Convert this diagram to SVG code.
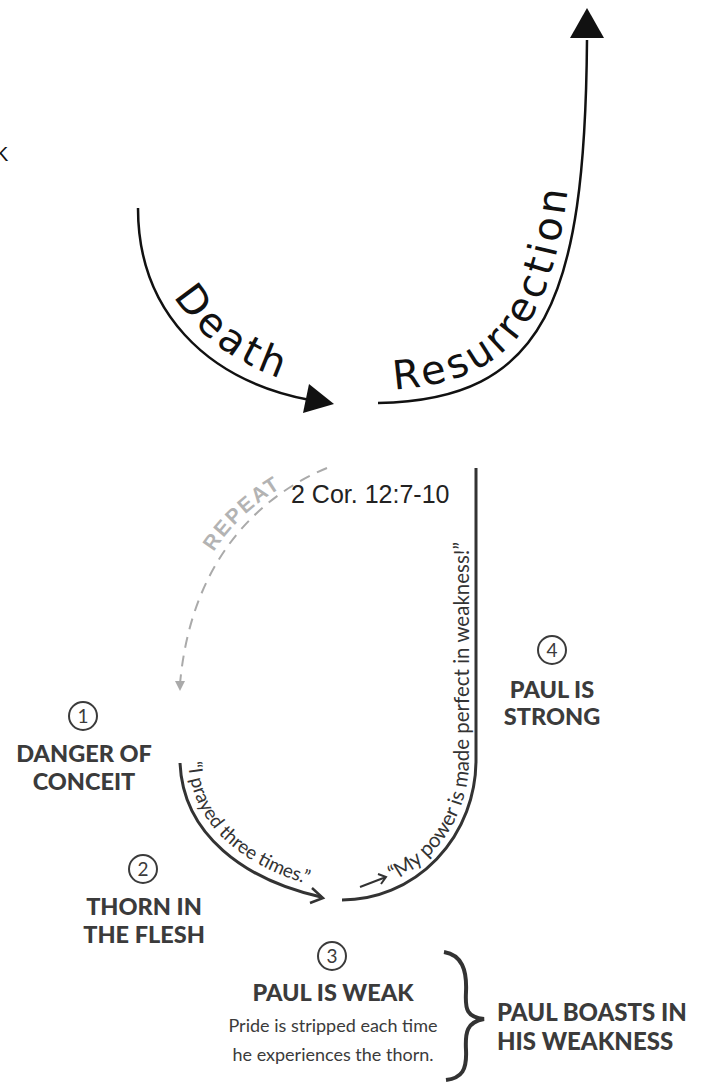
<svg xmlns="http://www.w3.org/2000/svg" width="701" height="1084" viewBox="0 0 701 1084">
<style>
.big{font-family:"DejaVu Sans",sans-serif;font-size:40px;fill:#111;letter-spacing:4px}
.head{font-family:Lato,"Liberation Sans",sans-serif;font-weight:900;font-size:23.5px;fill:#3b3b3b;text-anchor:middle}
.num{font-family:Lato,"Liberation Sans",sans-serif;font-size:19px;fill:#3b3b3b;text-anchor:middle}
.circ{fill:#fff;stroke:#3b3b3b;stroke-width:2}
.small{font-family:Lato,"Liberation Sans",sans-serif;font-size:18px;fill:#3b3b3b;text-anchor:middle}
.quote{font-family:Lato,"Liberation Sans",sans-serif;fill:#333}
.ln{fill:none;stroke:#333;stroke-width:3}
.blk{fill:none;stroke:#111;stroke-width:2.5}
</style>
<defs>
<path id="tpDeath" d="M151,208 C 151,300 213,366 314,388"/>
<path id="tpRes" d="M380,390 C 538,386 573,296 575,40"/>
<path id="tpPray" d="M188,760 C 191,830 250,872 330,890"/>
<path id="tpPower" d="M342,892 A128,132 0 0 0 469,760 L469,470"/>
<path id="tpRepeat" d="M196,588 C 213,543 243,506 305,474"/>
</defs>
<rect width="701" height="1084" fill="#fff"/>
<text x="-5" y="161" font-family="Liberation Sans, sans-serif" font-size="20" fill="#111">K</text>

<g id="connectors">
  <path class="blk" d="M138,208 C 138,310 205,380 310,400"/>
  <polygon points="334,404 309,384 303,413" fill="#111"/>
  <path class="blk" d="M378,403 C 545,400 585,300 587,40"/>
  <polygon points="587,8 604,38 570,38" fill="#111"/>
  <path d="M327,468 C 250,500 190,570 180,684" fill="none" stroke="#aaa" stroke-width="2" stroke-dasharray="11 8"/>
  <polygon points="175,681 185,681 180,691" fill="#aaa"/>
  <path class="ln" d="M476,468 L476,760 A134,140 0 0 1 342,900"/>
  <path class="ln" d="M180,763 C 183,835 245,880 321,897"/>
  <polyline points="312,888 323,898 310,903" fill="none" stroke="#333" stroke-width="2.5"/>
  <path d="M360,887 L386,877 M378,874 L386,877 L381,884" fill="none" stroke="#333" stroke-width="2"/>
</g>

<g id="death-label"><text class="big" letter-spacing="3"><textPath href="#tpDeath" startOffset="92">Death</textPath></text></g>
<g id="resurrection-label"><text class="big"><textPath href="#tpRes" startOffset="14">Resurrection</textPath></text></g>
<g id="repeat-label"><text font-family="Liberation Sans, sans-serif" font-weight="bold" font-size="21" fill="#b3b3b3" letter-spacing="2"><textPath href="#tpRepeat" startOffset="40">REPEAT</textPath></text></g>
<g id="pray-label"><text class="quote" font-size="19"><textPath href="#tpPray" startOffset="2">“I prayed three times.”</textPath></text></g>
<g id="power-label"><text class="quote" font-size="20.5"><textPath href="#tpPower" startOffset="52">“My power is made perfect in weakness!”</textPath></text></g>
<g id="ref"><text x="291" y="503" font-family="Liberation Sans, sans-serif" font-size="25" fill="#222">2 Cor. 12:7-10</text></g>

<g id="node1">
  <circle class="circ" cx="83" cy="716" r="14"/>
  <text class="num" x="83" y="722.5">1</text>
  <text class="head" x="84" y="762">DANGER OF</text>
  <text class="head" x="84" y="790">CONCEIT</text>
</g>
<g id="node2">
  <circle class="circ" cx="143" cy="869" r="14"/>
  <text class="num" x="143" y="875.5">2</text>
  <text class="head" x="144" y="915">THORN IN</text>
  <text class="head" x="144" y="943">THE FLESH</text>
</g>
<g id="node3">
  <circle class="circ" cx="332" cy="956" r="14"/>
  <text class="num" x="332" y="962.5">3</text>
  <text class="head" x="333" y="1001">PAUL IS WEAK</text>
  <text class="small" x="333" y="1032">Pride is stripped each time</text>
  <text class="small" x="333" y="1061">he experiences the thorn.</text>
</g>
<g id="node4">
  <circle class="circ" cx="552" cy="650" r="14"/>
  <text class="num" x="552" y="656.5">4</text>
  <text class="head" x="552" y="698">PAUL IS</text>
  <text class="head" x="552" y="725">STRONG</text>
</g>
<g id="brace">
  <path d="M444,952 C 462,955 467,970 466,992 C 465,1010 467,1017 484,1019 C 467,1022 465,1032 466,1050 C 467,1070 462,1078 446,1080" fill="none" stroke="#333" stroke-width="4"/>
</g>
<g id="boasts">
  <text x="497" y="1021" font-family="Lato, Liberation Sans, sans-serif" font-weight="900" font-size="24" fill="#3b3b3b">PAUL BOASTS IN</text>
  <text x="497" y="1050" font-family="Lato, Liberation Sans, sans-serif" font-weight="900" font-size="24" fill="#3b3b3b">HIS WEAKNESS</text>
</g>
</svg>
